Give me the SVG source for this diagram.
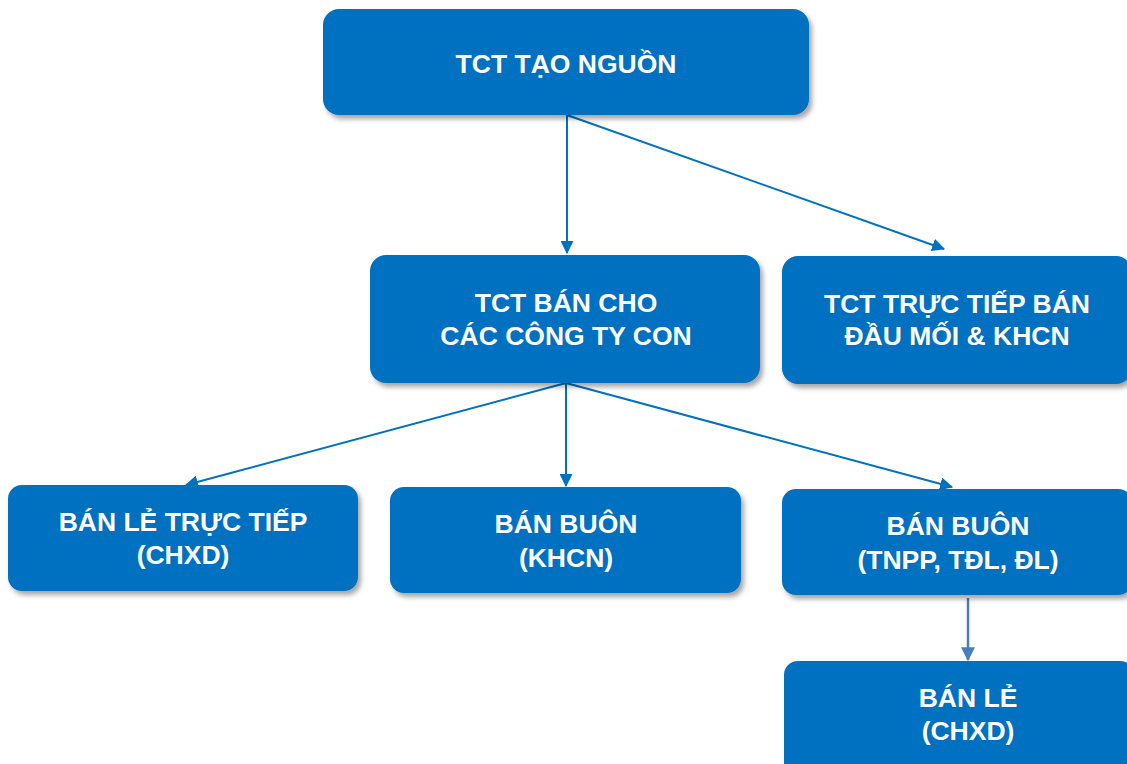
<svg xmlns="http://www.w3.org/2000/svg" width="1127" height="764" viewBox="0 0 1127 764">
<defs>
<filter id="sh" x="-10%" y="-10%" width="130%" height="140%">
<feDropShadow dx="3" dy="4" stdDeviation="2.5" flood-color="#000" flood-opacity="0.35"/>
</filter>
<marker id="ah" viewBox="0 0 12 12" refX="11" refY="6" markerWidth="13" markerHeight="13" markerUnits="userSpaceOnUse" orient="auto">
<path d="M0,0 L12,6 L0,12 Z" fill="#0070C0"/>
</marker>
<marker id="ah2" viewBox="0 0 12 12" refX="11" refY="6" markerWidth="14" markerHeight="14" markerUnits="userSpaceOnUse" orient="auto">
<path d="M0,0 L12,6 L0,12 Z" fill="#4A7EBB"/>
</marker>
</defs>
<style>
.box{fill:#0070C0;filter:url(#sh)}
.t{fill:#fff;font-family:"Liberation Sans",Arial,sans-serif;font-weight:bold;font-size:26.5px;text-anchor:middle}
.c{stroke:#0070C0;stroke-width:2;fill:none;marker-end:url(#ah)}
.c2{stroke:#4A7EBB;stroke-width:2.5;fill:none;marker-end:url(#ah2)}
</style>
<rect width="1127" height="764" fill="#fff"/>
<g id="connectors">
<line class="c" x1="567" y1="115" x2="567" y2="253"/>
<line class="c" x1="567" y1="115" x2="944" y2="249"/>
<line class="c" x1="566" y1="383" x2="186" y2="485"/>
<line class="c" x1="566" y1="383" x2="566" y2="486"/>
<line class="c" x1="566" y1="383" x2="952" y2="487"/>
<line class="c2" x1="968" y1="598" x2="968" y2="660"/>
</g>
<g id="n1"><rect class="box" x="323" y="9" width="486" height="106" rx="16"/><text class="t" x="566" y="73">TCT TẠO NGUỒN</text></g>
<g id="n2"><rect class="box" x="370" y="255" width="390" height="128" rx="16"/><text class="t" x="566" y="312">TCT BÁN CHO</text><text class="t" x="566" y="345">CÁC CÔNG TY CON</text></g>
<g id="n3"><rect class="box" x="782" y="256" width="350" height="128" rx="16"/><text class="t" x="957" y="313">TCT TRỰC TIẾP BÁN</text><text class="t" x="957" y="345">ĐẦU MỐI &amp; KHCN</text></g>
<g id="n4"><rect class="box" x="8" y="485" width="350" height="106" rx="14"/><text class="t" x="183" y="531">BÁN LẺ TRỰC TIẾP</text><text class="t" x="183" y="564">(CHXD)</text></g>
<g id="n5"><rect class="box" x="390" y="487" width="351" height="106" rx="14"/><text class="t" x="566" y="533">BÁN BUÔN</text><text class="t" x="566" y="567">(KHCN)</text></g>
<g id="n6"><rect class="box" x="782" y="489" width="350" height="106" rx="14"/><text class="t" x="958" y="535">BÁN BUÔN</text><text class="t" x="958" y="569">(TNPP, TĐL, ĐL)</text></g>
<g id="n7"><rect class="box" x="784" y="661" width="350" height="120" rx="14"/><text class="t" x="968" y="707">BÁN LẺ</text><text class="t" x="968" y="740">(CHXD)</text></g>
</svg>
